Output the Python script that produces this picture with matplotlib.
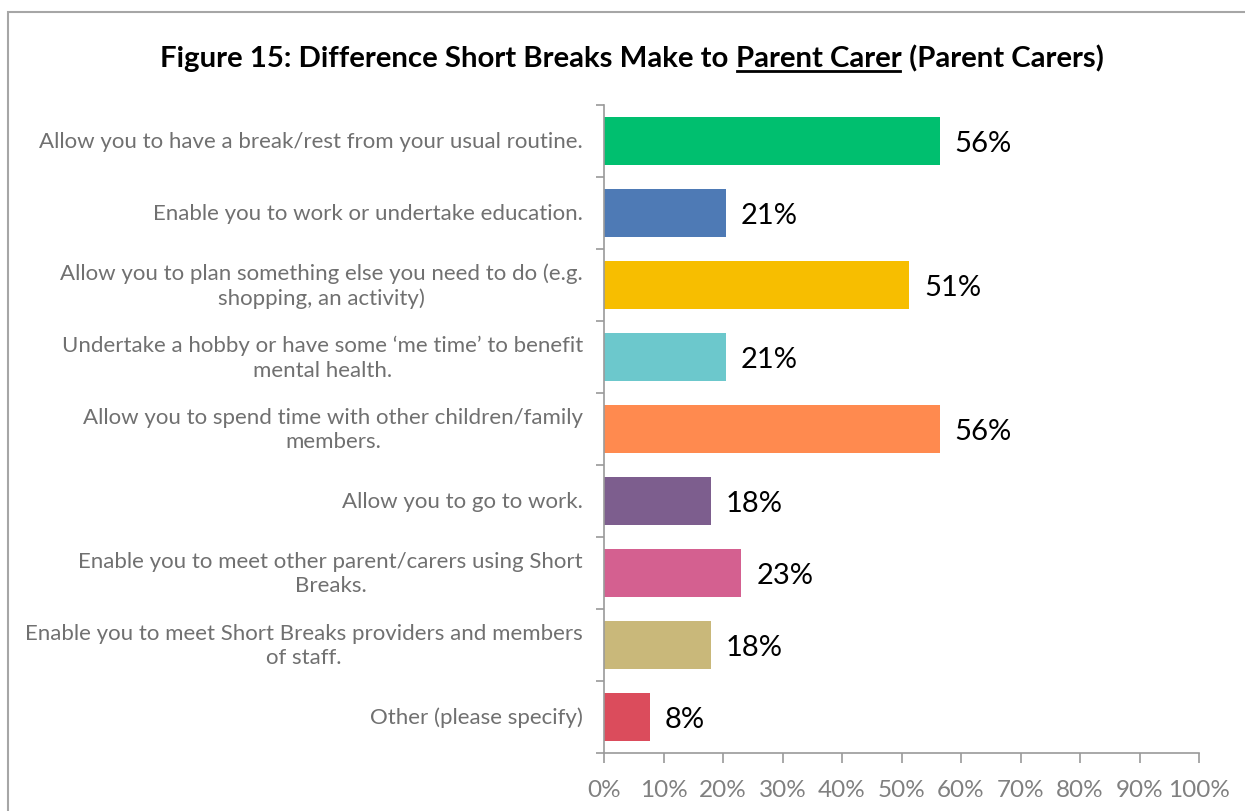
import numpy as np
import matplotlib.pyplot as plt
from matplotlib.patches import Rectangle
from matplotlib.lines import Line2D

categories = [
    "Allow you to have a break/rest from your usual routine.",
    "Enable you to work or undertake education.",
    "Allow you to plan something else you need to do (e.g.\nshopping, an activity)",
    "Undertake a hobby or have some \u2018me time\u2019 to benefit\nmental health.",
    "Allow you to spend time with other children/family\nmembers.",
    "Allow you to go to work.",
    "Enable you to meet other parent/carers using Short\nBreaks.",
    "Enable you to meet Short Breaks providers and members\nof staff.",
    "Other (please specify)",
]
percent = [56.41, 20.51, 51.28, 20.51, 56.41, 17.95, 23.08, 17.95, 7.69]
colors = ["#00BF6F", "#4E7AB5", "#F7BE00", "#6CC8CC", "#FF8A4F",
          "#7D5E8E", "#D46090", "#C9B87A", "#DB4C5C"]
xticks = list(range(0, 101, 10))

plt.rcParams['font.family'] = ['Lato', 'DejaVu Sans']

fig = plt.figure(figsize=(12.45, 8.12), dpi=100)
ax = fig.add_axes([604 / 1245, 1 - 754 / 812, 595 / 1245, 648 / 812])

y = np.arange(len(categories))
ax.barh(y, percent, height=0.68, color=colors)
for yi, v in zip(y, percent):
    ax.text(v + 2.5, yi + 0.03, f"{v:.0f}%", va='center', ha='left', fontsize=21, color='black')

ax.set_xlim(0, 100)
ax.set_ylim(len(categories) - 0.5, -0.5)
ax.set_xticks(xticks)
ax.set_xticklabels([f"{t}%" for t in xticks])
ax.set_yticks(np.arange(len(categories) + 1) - 0.5)
ax.set_yticklabels([])

# category labels: right edge fixed, lines centred on each other
lab_x = -21 / 595
for yi, c in zip(y, categories):
    ax.text(lab_x, yi, c, transform=ax.get_yaxis_transform(), ha='right', va='center',
            multialignment='center', fontsize=16, color='#707070', linespacing=1.3)

axis_grey = '#9a9a9a'
ax.tick_params(axis='y', length=6, color=axis_grey, width=1.2)
ax.tick_params(axis='x', length=7, color=axis_grey, width=1.2, pad=12,
               labelsize=17.5, labelcolor='#808080')
for side in ['top', 'right']:
    ax.spines[side].set_visible(False)
for side in ['left', 'bottom']:
    ax.spines[side].set_color(axis_grey)
    ax.spines[side].set_linewidth(1.2)

# outer chart frame
fig.add_artist(Rectangle((8 / 1245, -0.1), 1.2, 1 - 13 / 812 + 0.1,
                         transform=fig.transFigure, fill=False,
                         edgecolor='#a6a6a6', linewidth=1.5))

# title built from pieces so the middle part can be underlined
title_kw = dict(fontsize=21.2, fontweight='bold', color='black')
base_y = 1 - 67 / 812
t1 = fig.text(0.5, base_y, "Figure 15: Difference Short Breaks Make to ",
              ha='left', va='baseline', **title_kw)
t2 = ax.annotate("Parent Carer", xy=(1, 0), xycoords=t1, ha='left', va='bottom', **title_kw)
t3 = ax.annotate(" (Parent Carers)", xy=(1, 0), xycoords=t2, ha='left', va='bottom', **title_kw)

fig.canvas.draw()
r = fig.canvas.get_renderer()
b1 = t1.get_window_extent(r)
b3 = t3.get_window_extent(r)
total = b3.x1 - b1.x0
shift = (632 - total / 2) - b1.x0
t1.set_x(t1.get_position()[0] + shift / fig.bbox.width)
fig.canvas.draw()
b2 = t2.get_window_extent(r)
uy = base_y - 5 / fig.bbox.height
fig.add_artist(Line2D([b2.x0 / fig.bbox.width + 0.001, b2.x1 / fig.bbox.width - 0.001], [uy, uy],
                      transform=fig.transFigure, color='black', linewidth=2))

fig.savefig('out.png', dpi=100)
